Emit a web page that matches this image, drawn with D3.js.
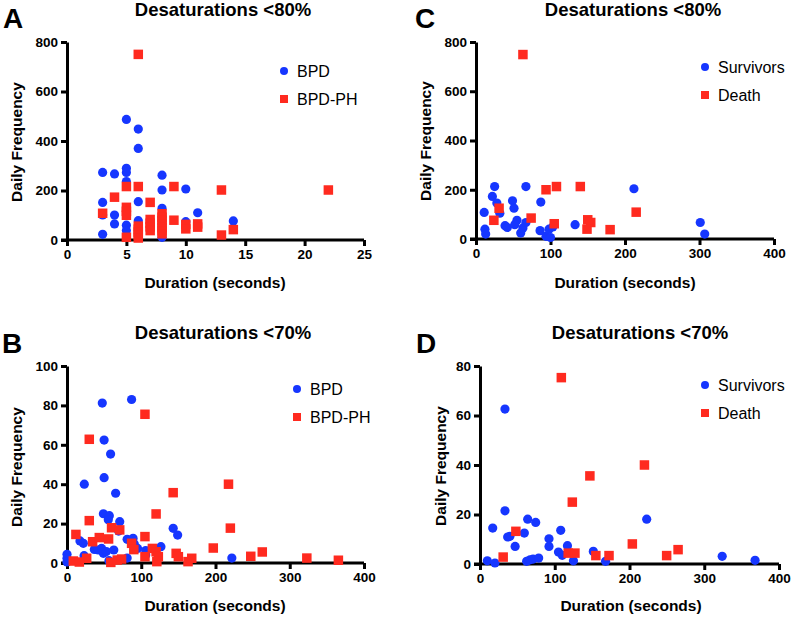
<!DOCTYPE html>
<html><head><meta charset="utf-8">
<script src="https://cdn.jsdelivr.net/npm/d3@7"></script>
<style>html,body{margin:0;padding:0;background:#fff}svg{display:block}</style>
</head><body>
<svg id="c" width="797" height="618"></svg>
<script>
// ---- data ----
const aTitle = "Desaturations <80%";
const bTitle = "Desaturations <70%";
const xLabel = "Duration (seconds)";
const yLabel = "Daily Frequency";

const aXTicks = [0,5,10,15,20,25];
const aYTicks = [0,200,400,600,800];
const cXTicks = [0,100,200,300,400];
const cYTicks = [0,200,400,600,800];
const bXTicks = [0,100,200,300,400];
const bYTicks = [0,20,40,60,80,100];
const dXTicks = [0,100,200,300,400];
const dYTicks = [0,20,40,60,80];

const aBPD = [[3,273],[3,152],[3,23],[3,101],[4,267],[4,101],[4,65],[5,487],[5,290],[5,273],[5,236],[5,60],[5,38],[6,448],[6,370],[6,155],[6,78],[8,262],[8,202],[8,128],[8,11],[10,206],[10,74],[11,110],[14,77]];
const aPH = [[3,108],[4,173],[5,216],[5,132],[5,116],[5,100],[5,11],[6,750],[6,216],[6,56],[6,44],[6,32],[6,20],[6,8],[7,152],[7,83],[7,68],[7,53],[7,38],[8,106],[8,92],[8,78],[8,64],[8,50],[8,37],[8,25],[9,216],[9,80],[10,63],[10,45],[11,65],[11,52],[13,202],[13,20],[14,42],[22,202]];

const cSurv = [[11,108],[12,40],[13,20],[25,213],[22,173],[28,146],[32,105],[39,54],[42,47],[49,155],[51,125],[55,76],[52,58],[60,24],[63,45],[67,67],[67,213],[87,150],[86,34],[94,11],[100,6],[98,40],[103,49],[133,58],[212,204],[301,67],[307,20]];
const cDeath = [[63,749],[24,76],[31,125],[74,85],[94,200],[108,213],[105,62],[140,213],[150,78],[154,67],[149,40],[180,38],[215,109]];

const bBPD = [[0,4.4],[0,2.4],[0,0.5],[17.5,11.2],[22,10],[23,3.7],[23.3,40],[47.5,81.2],[50,62.4],[50,43.3],[58.7,55.3],[65.5,35.4],[49,25],[57,24],[55.6,22],[71,21],[69.5,16.2],[36.8,6.9],[42,6.6],[46.6,7.4],[49,4.9],[53,5.8],[63,6.6],[56.5,1.2],[81,12],[87,83],[89,12.5],[90.6,9.6],[95,7.4],[81,2.5],[106,6.3],[106,4],[126.5,8.3],[143,17.6],[149,14.2],[222,2.5]];
const bPH = [[12,14.5],[30,62.8],[30,21.5],[34.5,10.8],[43.5,12.9],[56,12.2],[60,17.9],[71,16.8],[105,75.5],[105,13.4],[120,24.9],[143,35.7],[26.5,2.4],[8.5,1],[16.6,0.5],[59,0.3],[67.7,1.5],[73.5,2],[87,10],[90,6.8],[105,3.2],[115,7.4],[120,5.7],[123,3.2],[121,0.7],[147,4.9],[150,3.2],[163,0.7],[168,2.4],[197,7.6],[217.5,40],[220,17.7],[247.5,3.4],[263,5.6],[323,2.5],[365.5,1.4]];

const dSurv = [[9.8,1.3],[20,0.4],[17,14.5],[33.4,62.6],[33.4,21.5],[37,10.9],[40,11.2],[47,7.1],[59.3,12.5],[63.8,18.1],[74.5,16.8],[62.4,1.1],[67,1.7],[71,2],[78.5,2.4],[92.3,10.2],[92.3,7.1],[105,4.8],[108,13.6],[110,3.5],[117,7.4],[125,1.3],[151.6,5.1],[168,1.1],[223,18.1],[324,3.1],[368,1.5]];
const dDeath = [[108.8,75.3],[48,13.2],[31,2.8],[123.5,25],[147,35.6],[118,4.4],[127,4.4],[155,3.4],[172.6,3.4],[203.8,8.1],[220,40],[249.7,3.4],[265,5.8]];

// ---- drawing ----
const BLUE = "#1636ff", RED = "#ff2a1f";
const FONT = "'Liberation Sans', Arial, sans-serif";
const svg = d3.select("#c");

const panels = [
  {letter:"A", lx:3, ly:28, title:aTitle, tx:223, ty:16, x0:67, x1:364, y0:240, y1:42,
   xd:[0,25], yd:[0,800], xt:aXTicks, yt:aYTicks, s1:aBPD, s2:aPH, n1:"BPD", n2:"BPD-PH",
   legX:284, legY:71, xlx:215, xly:288, ylx:22, yly:142},
  {letter:"C", lx:415, ly:28, title:aTitle, tx:633, ty:16, x0:476, x1:774, y0:239, y1:42,
   xd:[0,400], yd:[0,800], xt:cXTicks, yt:cYTicks, s1:cSurv, s2:cDeath, n1:"Survivors", n2:"Death",
   legX:705, legY:67, xlx:625, xly:288, ylx:431, yly:141},
  {letter:"B", lx:2, ly:353, title:bTitle, tx:223, ty:339, x0:67, x1:364, y0:563, y1:366,
   xd:[0,400], yd:[0,100], xt:bXTicks, yt:bYTicks, s1:bBPD, s2:bPH, n1:"BPD", n2:"BPD-PH",
   legX:297, legY:389, xlx:215, xly:611, ylx:22, yly:467},
  {letter:"D", lx:416, ly:353, title:bTitle, tx:640, ty:339, x0:480, x1:779, y0:564, y1:366,
   xd:[0,400], yd:[0,80], xt:dXTicks, yt:dYTicks, s1:dSurv, s2:dDeath, n1:"Survivors", n2:"Death",
   legX:705, legY:385, xlx:631, xly:611, ylx:446, yly:466}
];

panels.forEach(p => {
  const g = svg.append("g");
  const x = d3.scaleLinear().domain(p.xd).range([p.x0, p.x1]);
  const y = d3.scaleLinear().domain(p.yd).range([p.y0, p.y1]);

  // axes
  const xa = g.append("g").attr("transform", `translate(0,${p.y0})`)
    .call(d3.axisBottom(x).tickValues(p.xt).tickSize(6).tickSizeOuter(0).tickPadding(3));
  const ya = g.append("g").attr("transform", `translate(${p.x0},0)`)
    .call(d3.axisLeft(y).tickValues(p.yt).tickSize(6).tickSizeOuter(0).tickPadding(3));
  [xa, ya].forEach(a => {
    a.select(".domain").attr("stroke", "#000").attr("stroke-width", 3);
    a.selectAll(".tick line").attr("stroke", "#000").attr("stroke-width", 3);
    a.selectAll(".tick text").attr("fill", "#000").style("font-family", FONT)
      .style("font-size", "13.5px").style("font-weight", "bold");
  });
  xa.select(".domain").attr("d", `M${p.x0 - 6},0H${p.x1}`);

  // points
  g.append("g").selectAll("circle").data(p.s1).join("circle")
    .attr("cx", d => x(d[0])).attr("cy", d => y(d[1])).attr("r", 4.6).attr("fill", BLUE);
  const S = 9.5;
  g.append("g").selectAll("rect").data(p.s2).join("rect")
    .attr("x", d => x(d[0]) - S/2).attr("y", d => y(d[1]) - S/2)
    .attr("width", S).attr("height", S).attr("fill", RED);

  // legend
  g.append("circle").attr("cx", p.legX).attr("cy", p.legY).attr("r", 4).attr("fill", BLUE);
  g.append("rect").attr("x", p.legX - 4).attr("y", p.legY + 28 - 4).attr("width", 8).attr("height", 8).attr("fill", RED);
  [[p.n1, p.legY], [p.n2, p.legY + 28]].forEach(([t, yy]) => {
    g.append("text").attr("x", p.legX + 13).attr("y", yy).attr("dy", "0.36em")
      .style("font-family", FONT).style("font-size", "16px").attr("fill", "#000").text(t);
  });

  // titles & labels
  g.append("text").attr("x", p.tx).attr("y", p.ty).attr("text-anchor", "middle")
    .style("font-family", FONT).style("font-size", "18.5px").style("font-weight", "bold").text(p.title);
  g.append("text").attr("x", p.lx).attr("y", p.ly)
    .style("font-family", FONT).style("font-size", "28px").style("font-weight", "bold").text(p.letter);
  g.append("text").attr("x", p.xlx).attr("y", p.xly).attr("text-anchor", "middle")
    .style("font-family", FONT).style("font-size", "15.5px").style("font-weight", "bold").text(xLabel);
  g.append("text").attr("transform", `translate(${p.ylx},${p.yly}) rotate(-90)`).attr("text-anchor", "middle")
    .style("font-family", FONT).style("font-size", "15.5px").style("font-weight", "bold").text(yLabel);
});
</script>
</body></html>
